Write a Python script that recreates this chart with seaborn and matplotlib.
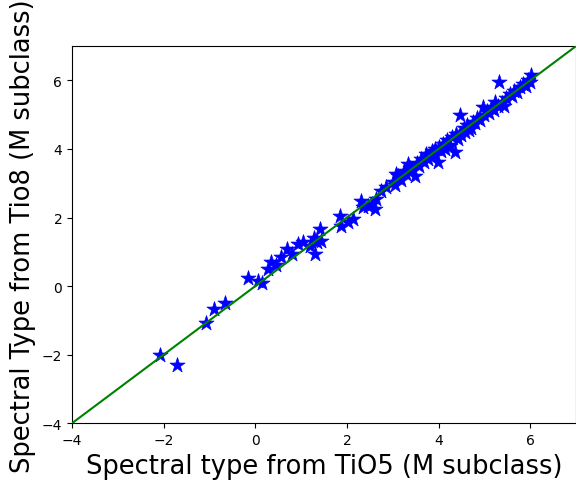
import matplotlib
matplotlib.use("Agg")
import matplotlib.pyplot as plt
import seaborn as sns
import pandas as pd

# -------------------------------
# Data
# -------------------------------
tio5 = [-2.08, -1.70, -1.07, -0.89, -0.65, -0.15, 0.05, 0.15, 0.28, 0.35,
        0.45, 0.57, 0.70, 0.80, 0.93, 1.04, 1.20, 1.28, 1.30, 1.35,
        1.41, 1.43, 1.85, 1.87, 2.02, 2.13, 2.30, 2.35, 2.46, 2.55,
        2.61, 2.63, 2.74, 2.85, 3.00, 3.05, 3.07, 3.12, 3.18, 3.25,
        3.30, 3.33, 3.38, 3.42, 3.48, 3.52, 3.58, 3.62, 3.68, 3.72,
        3.78, 3.83, 3.86, 3.90, 3.93, 3.98, 4.02, 4.05, 4.10, 4.14,
        4.18, 4.22, 4.26, 4.30, 4.35, 4.38, 4.42, 4.46, 4.46, 4.50,
        4.55, 4.58, 4.62, 4.66, 4.70, 4.75, 4.80, 4.85, 4.90, 4.96,
        5.00, 5.05, 5.10, 5.15, 5.20, 5.24, 5.30, 5.33, 5.38, 5.43,
        5.48, 5.55, 5.60, 5.65, 5.72, 5.78, 5.85, 5.90, 5.95, 6.00,
        6.02]
tio8 = [-2.00, -2.31, -1.08, -0.67, -0.50, 0.23, 0.15, 0.09, 0.50, 0.70,
        0.62, 0.85, 1.08, 0.95, 1.23, 1.29, 1.18, 1.40, 0.94, 1.30,
        1.67, 1.32, 2.05, 1.76, 1.88, 1.96, 2.49, 2.30, 2.34, 2.40,
        2.25, 2.54, 2.78, 2.90, 3.05, 2.95, 3.27, 3.20, 3.10, 3.35,
        3.28, 3.57, 3.45, 3.38, 3.22, 3.60, 3.50, 3.70, 3.62, 3.85,
        3.70, 3.80, 3.95, 3.82, 4.00, 3.62, 4.05, 3.95, 4.15, 4.00,
        4.25, 4.12, 4.09, 4.35, 3.92, 4.45, 4.30, 4.98, 4.45, 4.40,
        4.60, 4.50, 4.70, 4.55, 4.62, 4.80, 4.75, 4.90, 4.85, 5.23,
        5.00, 5.10, 5.05, 5.20, 5.15, 5.38, 5.25, 5.94, 5.35, 5.26,
        5.50, 5.60, 5.55, 5.70, 5.65, 5.80, 5.90, 5.85, 6.00, 5.95,
        6.17]

line_x = [-4, 7]
line_y = [-4, 7]

df = pd.DataFrame({"tio5": tio5, "tio8": tio8})

fig, ax = plt.subplots(figsize=(5.76, 4.81), dpi=100)
fig.subplots_adjust(left=0.125, right=1.0, bottom=0.118, top=0.902)

ax.plot(line_x, line_y, color="green", lw=1.5, zorder=3)
sns.scatterplot(data=df, x="tio5", y="tio8", marker="*", s=130,
                color="blue", edgecolor="blue", linewidth=0.5, ax=ax, zorder=2)

ax.set_xlim(-4, 7)
ax.set_ylim(-4, 7)
ax.set_xticks([-4, -2, 0, 2, 4, 6])
ax.set_yticks([-4, -2, 0, 2, 4, 6])
ax.set_xlabel("Spectral type from TiO5 (M subclass)", fontsize=18.5)
ax.set_ylabel("Spectral Type from Tio8 (M subclass)", fontsize=18.5)

fig.savefig("out.png", dpi=100)
